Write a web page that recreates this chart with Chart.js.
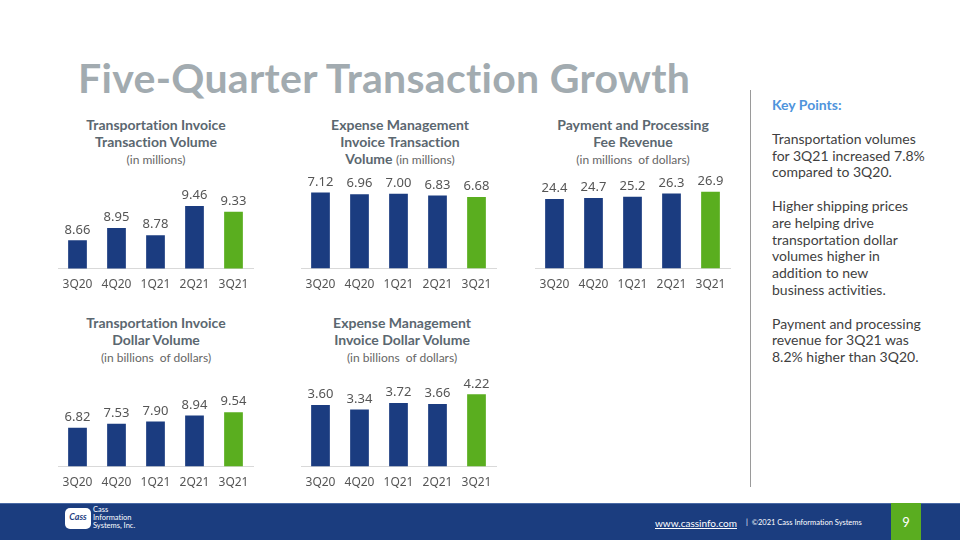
<!DOCTYPE html>
<html>
<head>
<meta charset="utf-8">
<script src="https://cdn.jsdelivr.net/npm/chart.js@4.4.0/dist/chart.umd.min.js"></script>
<style>
  html, body { margin: 0; padding: 0; background: #fff; }
  .slide { position: relative; width: 960px; height: 540px; overflow: hidden; font-family: Lato, 'Noto Sans', sans-serif; font-variant-ligatures: none; }
  h1 { position: absolute; left: 78px; top: 54px; margin: 0; font-size: 41px; letter-spacing: 0.3px; font-weight: bold; color: #a2abb0; line-height: 48px; white-space: nowrap; }
  .ttl { position: absolute; width: 220px; text-align: center; font-size: 14px; font-weight: bold; color: #5b6770; line-height: 17px; }
  .ttl span { font-weight: normal; font-size: 12px; color: #666; }
  .box { position: absolute; }
  .divider { position: absolute; left: 750px; top: 90px; width: 1px; height: 397px; background: #9a9a9a; }
  .keys { position: absolute; left: 772px; top: 97px; font-size: 14px; line-height: 16.8px; color: #3f3f3f; }
  .keys .hd { color: #4f94dc; font-weight: bold; margin-bottom: 17px; }
  .keys p { margin: 0 0 16.8px 0; }
  .footer { position: absolute; left: 0; top: 503px; width: 960px; height: 37px; background: #1b3d7f; border-top: 1px solid #4a6aa5; }
  .pg { position: absolute; left: 891px; top: 503px; width: 30px; height: 38px; background: #5aad20; color: #fff; font-size: 13px; text-align: center; line-height: 38px; }
  .url { position: absolute; left: 655px; top: 517px; color: #fff; font-size: 10px; text-decoration: underline; }
  .copy { position: absolute; left: 746px; top: 517px; color: #fff; font-size: 7.5px; line-height: 12px; }
  .logo { position: absolute; left: 65px; top: 508px; width: 26px; height: 21px; background: #fff; border-radius: 5px; color: #1b3d7f; font-size: 9px; font-weight: bold; font-style: italic; text-align: center; line-height: 18px; }
  .logotx { position: absolute; left: 93px; top: 506px; color: #fff; font-size: 7.5px; line-height: 8px; }
</style>
</head>
<body>
<div class="slide">
  <h1>Five-Quarter Transaction Growth</h1>

  <div class="ttl" style="left:46px; top:116px;">Transportation Invoice<br>Transaction Volume<br><span>(in millions)</span></div>
  <div class="ttl" style="left:290px; top:116px;">Expense Management<br>Invoice Transaction<br>Volume <span>(in millions)</span></div>
  <div class="ttl" style="left:523px; top:116px;">Payment and Processing<br>Fee Revenue<br><span>(in millions&nbsp; of dollars)</span></div>
  <div class="ttl" style="left:46px; top:314px;">Transportation Invoice<br>Dollar Volume<br><span>(in billions&nbsp; of dollars)</span></div>
  <div class="ttl" style="left:292px; top:314px;">Expense Management<br>Invoice Dollar Volume<br><span>(in billions&nbsp; of dollars)</span></div>

  <div class="box" style="left:53px; top:170px;"><canvas id="c1" width="205" height="135"></canvas></div>
  <div class="box" style="left:296px; top:170px;"><canvas id="c2" width="205" height="135"></canvas></div>
  <div class="box" style="left:530px; top:170px;"><canvas id="c3" width="205" height="135"></canvas></div>
  <div class="box" style="left:53px; top:368px;"><canvas id="c4" width="205" height="135"></canvas></div>
  <div class="box" style="left:296px; top:368px;"><canvas id="c5" width="205" height="135"></canvas></div>

  <div class="divider"></div>
  <div class="keys">
    <div class="hd">Key Points:</div>
    <p>Transportation volumes<br>for 3Q21 increased 7.8%<br>compared to 3Q20.</p>
    <p>Higher shipping prices<br>are helping drive<br>transportation dollar<br>volumes higher in<br>addition to new<br>business activities.</p>
    <p>Payment and processing<br>revenue for 3Q21 was<br>8.2% higher than 3Q20.</p>
  </div>

  <div class="footer"></div>
  <div class="logo">Cass</div>
  <div class="logotx">Cass<br>Information<br>Systems, Inc.</div>
  <div class="url">www.cassinfo.com</div>
  <div class="copy">|&nbsp; ©2021 Cass Information Systems</div>
  <div class="pg">9</div>
</div>

<script>
const quarters = ['3Q20', '4Q20', '1Q21', '2Q21', '3Q21'];
const transInvoiceVolume = [8.66, 8.95, 8.78, 9.46, 9.33];
const expenseInvoiceVolume = [7.12, 6.96, 7.00, 6.83, 6.68];
const paymentFeeRevenue = [24.4, 24.7, 25.2, 26.3, 26.9];
const transDollarVolume = [6.82, 7.53, 7.90, 8.94, 9.54];
const expenseDollarVolume = [3.60, 3.34, 3.72, 3.66, 4.22];

const BLUE = '#1b3c80';
const GREEN = '#5aae1f';

// draws the value above each bar
const valueLabels = {
  id: 'valueLabels',
  afterDatasetsDraw(chart, args, opts) {
    const ctx = chart.ctx;
    const ds = chart.data.datasets[0];
    const meta = chart.getDatasetMeta(0);
    ctx.save();
    ctx.font = '13px "Noto Sans", sans-serif';
    ctx.fillStyle = '#555';
    ctx.textAlign = 'center';
    ctx.textBaseline = 'bottom';
    meta.data.forEach(function(bar, i) {
      ctx.fillText(ds.data[i].toFixed(opts.decimals), bar.x, bar.y - 4);
    });
    ctx.restore();
  }
};

function makeChart(id, values, yMin, yMax, decimals) {
  const ctx = document.getElementById(id).getContext('2d');
  return new Chart(ctx, {
    type: 'bar',
    data: {
      labels: quarters,
      datasets: [{
        data: values,
        backgroundColor: quarters.map((q, i) => i === quarters.length - 1 ? GREEN : BLUE),
        barPercentage: 0.48,
        categoryPercentage: 1
      }]
    },
    options: {
      responsive: false,
      animation: false,
      layout: { padding: { top: 13, bottom: 4, left: 5, right: 5 } },
      plugins: {
        legend: { display: false },
        tooltip: { enabled: false },
        valueLabels: { decimals: decimals }
      },
      scales: {
        y: { display: false, min: yMin, max: yMax },
        x: {
          grid: { display: false, drawTicks: false },
          border: { display: true, color: '#d9d9d9', width: 1 },
          ticks: { color: '#555', padding: 9, font: { family: '"Noto Sans", sans-serif', size: 12 } }
        }
      }
    },
    plugins: [valueLabels]
  });
}

makeChart('c1', transInvoiceVolume, 8, 10, 2);
makeChart('c2', expenseInvoiceVolume, 0, 8, 2);
makeChart('c3', paymentFeeRevenue, 0, 30, 1);
makeChart('c4', transDollarVolume, 0, 15, 2);
makeChart('c5', expenseDollarVolume, 0, 5, 2);
</script>
</body>
</html>
